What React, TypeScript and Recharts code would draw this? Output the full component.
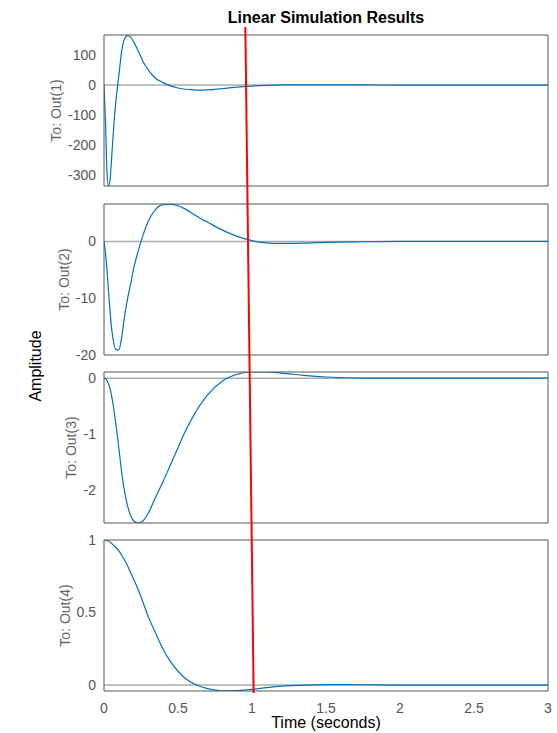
import React from 'react';
import { LineChart, Line, XAxis, YAxis, ReferenceLine } from 'recharts';

// ---- data ----
const timeSec = [
  0, 0.01, 0.02, 0.03, 0.04, 0.05, 0.06, 0.08, 0.1, 0.12, 0.14, 0.16, 0.18, 0.2,
  0.23, 0.26, 0.3, 0.35, 0.4, 0.45, 0.5, 0.55, 0.6, 0.65, 0.7, 0.8, 0.9, 1.0,
  1.1, 1.2, 1.35, 1.5, 1.75, 2, 2.5, 3,
];
const out1 = [
  0, -120, -290, -336, -322, -255, -180, -55, 30, 115, 155, 165, 160, 145,
  115, 82, 50, 22, 8, -3, -10, -14, -16, -17, -16, -12, -7, -3.5,
  -1, 0.3, 0.8, 0.6, 0.2, 0, 0, 0,
];
const out2 = [
  0, -2, -5, -8.5, -12, -15, -17, -19, -19.1, -16.8, -13, -10, -7.5, -4.8,
  -1.8, 0.8, 3.6, 5.7, 6.5, 6.55, 6.3, 5.7, 4.9, 4.1, 3.4, 2.0, 0.9, 0.15,
  -0.25, -0.35, -0.3, -0.15, -0.05, 0, 0, 0,
];
const out3 = [
  0, -0.01, -0.04, -0.1, -0.18, -0.3, -0.45, -0.82, -1.25, -1.7, -2.05, -2.3, -2.47, -2.56,
  -2.6, -2.57, -2.42, -2.13, -1.85, -1.55, -1.25, -0.95, -0.7, -0.48, -0.3, -0.05, 0.07, 0.11,
  0.11, 0.09, 0.05, 0.02, 0.0, 0, 0, 0,
];
const out4 = [
  1, 0.999, 0.997, 0.993, 0.987, 0.978, 0.968, 0.95, 0.925, 0.895, 0.86, 0.82, 0.775, 0.73,
  0.66, 0.58, 0.47, 0.355, 0.245, 0.16, 0.095, 0.045, 0.012, -0.01, -0.025, -0.04, -0.038, -0.03,
  -0.018, -0.008, 0.0, 0.003, 0.002, 0, 0, 0,
];
const xTicks = [0, 0.5, 1, 1.5, 2, 2.5, 3];
const xTickLabels = ['0', '0.5', '1', '1.5', '2', '2.5', '3'];
const yTicks1 = [-300, -200, -100, 0, 100];
const yTicks2 = [-20, -10, 0];
const yTicks3 = [-2, -1, 0];
const yTicks4 = [0, 0.5, 1];
const outputNames = ['To: Out(1)', 'To: Out(2)', 'To: Out(3)', 'To: Out(4)'];
const cursorTime = [0.955, 1.011];
const cursorLevel = [1, 0];

// ---- layout / style ----
const W = 557;
const PLOT_LEFT = 104;
const RIGHT_M = 9;
const PLOT_H = 151;
const AXIS_COLOR = '#555555';
const TICK_COLOR = '#555555';
const LABEL_GRAY = '#666666';
const CURVE = '#0072BD';
const FONT = "'Liberation Sans', Arial, Helvetica, sans-serif";

const rows = timeSec.map((t, i) => ({ t, o1: out1[i], o2: out2[i], o3: out3[i], o4: out4[i] }));
const cursorRows = cursorTime.map((t, i) => ({ t, v: cursorLevel[i] }));

const panels = [
  { key: 'o1', name: outputNames[0], domain: [-337, 167], ticks: yTicks1, top: 35, labelX: 56 },
  { key: 'o2', name: outputNames[1], domain: [-20, 6.6], ticks: yTicks2, top: 204, labelX: 63.5 },
  { key: 'o3', name: outputNames[2], domain: [-2.6, 0.11], ticks: yTicks3, top: 372, labelX: 71 },
  { key: 'o4', name: outputNames[3], domain: [-0.041, 1], ticks: yTicks4, top: 540, labelX: 65 },
];

const SideLabel = (props: any) => {
  const { viewBox, value, cx } = props;
  const cy = viewBox.y + viewBox.height / 2;
  return (
    <text
      x={cx}
      y={cy}
      transform={`rotate(-90 ${cx} ${cy})`}
      textAnchor="middle"
      dominantBaseline="central"
      fill={LABEL_GRAY}
      fontSize={14}
      fontFamily={FONT}
    >
      {value}
    </text>
  );
};

const TimeLabel = (props: any) => {
  const { viewBox } = props;
  const cx = viewBox.x + viewBox.width / 2;
  return (
    <text x={cx} y={viewBox.y + 37} textAnchor="middle" fill="#000" fontSize={16} fontFamily={FONT}>
      Time (seconds)
    </text>
  );
};

function Panel({ p, showX }: { p: any; showX: boolean }) {
  const padTop = 12;
  const padBottom = showX ? 0 : 12;
  const xAxisH = showX ? 42 : 0;
  const height = padTop + PLOT_H + padBottom + xAxisH;
  return (
    <div style={{ position: 'absolute', left: 0, top: p.top - padTop }}>
      <LineChart
        width={W}
        height={height}
        data={rows}
        margin={{ top: padTop, right: RIGHT_M, bottom: padBottom, left: 0 }}
      >
        <XAxis
          xAxisId="b"
          dataKey="t"
          type="number"
          domain={[0, 3]}
          ticks={xTicks}
          orientation="bottom"
          mirror
          tick={false}
          tickSize={4}
          stroke={AXIS_COLOR}
          allowDataOverflow
        />
        <XAxis
          xAxisId="t"
          dataKey="t"
          type="number"
          domain={[0, 3]}
          ticks={xTicks}
          orientation="top"
          mirror
          tick={false}
          tickSize={4}
          stroke={AXIS_COLOR}
          allowDataOverflow
        />
        {showX && (
          <XAxis
            xAxisId="lab"
            dataKey="t"
            type="number"
            domain={[0, 3]}
            ticks={xTicks}
            interval={0}
            orientation="bottom"
            height={xAxisH}
            axisLine={false}
            tickLine={false}
            tickSize={6}
            tickMargin={6}
            tickFormatter={(v: number) => xTickLabels[xTicks.indexOf(v)]}
            tick={{ fill: TICK_COLOR, fontSize: 14, fontFamily: FONT }}
            label={<TimeLabel />}
            allowDataOverflow
          />
        )}
        <YAxis
          yAxisId="l"
          type="number"
          domain={p.domain}
          ticks={p.ticks}
          interval={0}
          width={PLOT_LEFT}
          stroke={AXIS_COLOR}
          tickLine={false}
          tickSize={6}
          tickMargin={2}
          tick={{ fill: TICK_COLOR, fontSize: 14, fontFamily: FONT }}
          label={<SideLabel value={p.name} cx={p.labelX} />}
          allowDataOverflow
        />
        <YAxis
          yAxisId="lm"
          type="number"
          domain={p.domain}
          ticks={p.ticks}
          orientation="left"
          mirror
          tick={false}
          tickSize={4}
          axisLine={false}
          stroke={AXIS_COLOR}
          allowDataOverflow
        />
        <YAxis
          yAxisId="r"
          type="number"
          domain={p.domain}
          ticks={p.ticks}
          orientation="right"
          mirror
          tick={false}
          tickSize={4}
          stroke={AXIS_COLOR}
          allowDataOverflow
        />
        <ReferenceLine xAxisId="b" yAxisId="l" y={0} stroke="#ababab" strokeWidth={1.5} />
        <Line
          xAxisId="b"
          yAxisId="l"
          dataKey={p.key}
          type="monotone"
          stroke={CURVE}
          strokeWidth={1.2}
          dot={false}
          activeDot={false}
          isAnimationActive={false}
        />
      </LineChart>
    </div>
  );
}

export default function App() {
  return (
    <div style={{ position: 'absolute', left: 0, top: 0, width: W, height: 733, background: '#fff' }}>
      {panels.map((p, i) => (
        <Panel key={p.key} p={p} showX={i === panels.length - 1} />
      ))}
      <svg width={W} height={733} style={{ position: 'absolute', left: 0, top: 0, pointerEvents: 'none' }}>
        <text x={326} y={23} textAnchor="middle" fontWeight="bold" fontSize={16} fontFamily={FONT} fill="#000">
          Linear Simulation Results
        </text>
        <text
          x={35}
          y={366}
          transform="rotate(-90 35 366)"
          textAnchor="middle"
          dominantBaseline="central"
          fontSize={16}
          fontFamily={FONT}
          fill="#000"
        >
          Amplitude
        </text>
      </svg>
      <div style={{ position: 'absolute', left: 0, top: 0, pointerEvents: 'none' }}>
        <LineChart width={W} height={693} data={cursorRows} margin={{ top: 27, right: RIGHT_M, bottom: 0, left: PLOT_LEFT }}>
          <XAxis dataKey="t" type="number" domain={[0, 3]} hide allowDataOverflow />
          <YAxis type="number" domain={[0, 1]} hide allowDataOverflow />
          <Line dataKey="v" type="linear" stroke="#ff0000" strokeWidth={2} dot={false} activeDot={false} isAnimationActive={false} />
        </LineChart>
      </div>
    </div>
  );
}
